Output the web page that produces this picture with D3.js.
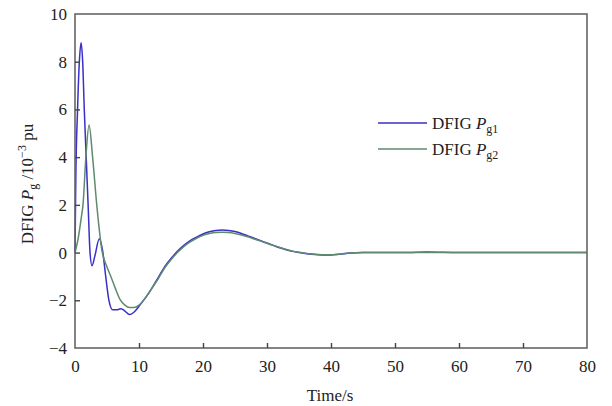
<!DOCTYPE html>
<html>
<head>
<meta charset="utf-8">
<script src="https://cdn.jsdelivr.net/npm/d3@7"></script>
<style>
  body { margin: 0; background: #fff; }
  svg text { font-family: "Liberation Serif", "DejaVu Serif", serif; fill: #222; }
</style>
</head>
<body>
<div id="chart"></div>
<script>
// time (s) and DFIG Pg (10^-3 pu)
var t1 = [0, 0.12, 0.4, 0.68, 0.95, 1.2, 1.45, 1.75, 2.05, 2.35, 2.65, 3.1, 3.8, 4.3, 4.8, 5.3, 5.9, 6.5, 7.2, 7.8, 8.5, 9.2, 10, 11, 12, 13, 14, 15, 16, 17, 18, 19, 20, 21, 22, 23, 24, 25, 26, 27, 28, 29, 30, 31, 32, 33, 34, 35, 36, 37, 38, 39, 40, 41, 42, 43, 45, 48, 52, 55, 60, 70, 80];
var pg1 = [0, 3, 6, 8, 8.8, 8.0, 6, 4, 2, 0, -0.55, -0.15, 0.58, 0.1, -1.0, -2.0, -2.4, -2.4, -2.35, -2.45, -2.6, -2.5, -2.25, -1.9, -1.5, -1.05, -0.6, -0.25, 0.05, 0.3, 0.5, 0.65, 0.78, 0.87, 0.93, 0.95, 0.93, 0.88, 0.8, 0.7, 0.6, 0.5, 0.4, 0.3, 0.2, 0.12, 0.05, 0, -0.04, -0.07, -0.09, -0.1, -0.1, -0.08, -0.05, -0.02, 0, 0, 0, 0.02, 0, 0, 0];

var t2 = [0, 0.5, 1.0, 1.25, 1.7, 2.2, 2.75, 3.4, 4.2, 5, 5.6, 6.3, 7, 7.8, 8.5, 9.2, 10, 11, 12, 13, 14, 15, 16, 17, 18, 19, 20, 21, 22, 23, 24, 25, 26, 27, 28, 29, 30, 31, 32, 33, 34, 35, 36, 37, 38, 39, 40, 41, 42, 43, 45, 48, 52, 55, 60, 70, 80];
var pg2 = [0, 0.6, 1.5, 2, 4, 5.35, 4, 2, 0.1, -0.6, -1.0, -1.5, -1.95, -2.2, -2.3, -2.3, -2.2, -1.9, -1.5, -1.1, -0.65, -0.3, 0, 0.25, 0.45, 0.6, 0.72, 0.8, 0.84, 0.85, 0.84, 0.8, 0.74, 0.66, 0.57, 0.48, 0.39, 0.3, 0.21, 0.13, 0.06, 0.01, -0.03, -0.06, -0.08, -0.09, -0.09, -0.07, -0.04, -0.02, 0, 0, 0, 0, 0, 0, 0];

var xticks = [0, 10, 20, 30, 40, 50, 60, 70, 80];
var yticks = [-4, -2, 0, 2, 4, 6, 8, 10];

var w = 612, h = 406;
var x0 = 75, x1 = 587, y0 = 14, y1 = 348;

var svg = d3.select("#chart").append("svg")
	.attr("width", w)
	.attr("height", h);

var xscale = d3.scaleLinear().domain([0, 80]).range([x0, x1]);
var yscale = d3.scaleLinear().domain([-4, 10]).range([y1, y0]);

// series lines
var line = d3.line()
	.x(function(d){ return xscale(d[0]); })
	.y(function(d){ return yscale(d[1]); })
	.curve(d3.curveMonotoneX);

svg.append("path")
	.datum(d3.zip(t1, pg1))
	.attr("fill", "none")
	.attr("stroke", "#3a2fc6")
	.attr("stroke-width", 1.5)
	.attr("d", line);

svg.append("path")
	.datum(d3.zip(t2, pg2))
	.attr("fill", "none")
	.attr("stroke", "#5f8a6e")
	.attr("stroke-width", 1.5)
	.attr("d", line);

// frame
svg.append("rect")
	.attr("x", x0)
	.attr("y", y0)
	.attr("width", x1 - x0)
	.attr("height", y1 - y0)
	.attr("fill", "none")
	.attr("stroke", "#666")
	.attr("stroke-width", 1.6);

// axes with inward ticks
var xaxis = d3.axisBottom(xscale).tickValues(xticks).tickSize(-5).tickPadding(12);
var yaxis = d3.axisLeft(yscale).tickValues(yticks).tickSize(-5).tickPadding(8);

var gx = svg.append("g").attr("transform", "translate(0," + y1 + ")").call(xaxis);
var gy = svg.append("g").attr("transform", "translate(" + x0 + ",0)").call(yaxis);

[gx, gy].forEach(function(g){
	g.select(".domain").remove();
	g.selectAll(".tick line").attr("stroke", "#444").attr("stroke-width", 1.4);
	g.selectAll(".tick text")
		.style("font-family", "'Liberation Serif', serif")
		.style("font-size", "17px")
		.attr("fill", "#222");
});
gx.selectAll(".tick line").filter(function(d){ return d == 0 || d == 80; }).remove();
gy.selectAll(".tick line").filter(function(d){ return d == -4 || d == 10; }).remove();
gy.selectAll(".tick text").text(function(d){ return d < 0 ? "\u2212" + Math.abs(d) : d; });

// axis labels
svg.append("text")
	.attr("x", 330)
	.attr("y", 401)
	.attr("text-anchor", "middle")
	.style("font-size", "17px")
	.text("Time/s");

var ylab = svg.append("text")
	.attr("transform", "translate(33,184) rotate(-90)")
	.attr("text-anchor", "middle")
	.style("font-size", "17px");
ylab.append("tspan").text("DFIG ");
ylab.append("tspan").style("font-style", "italic").text("P");
ylab.append("tspan").attr("dy", 4).style("font-size", "12px").text("g");
ylab.append("tspan").attr("dy", -4).text(" /10");
ylab.append("tspan").attr("dy", -7).style("font-size", "12px").text("\u22123");
ylab.append("tspan").attr("dy", 7).text(" pu");

// legend
var legend = [
	{ name: "g1", color: "#3a2fc6", y: 123 },
	{ name: "g2", color: "#5f8a6e", y: 149 }
];
var lg = svg.selectAll("g.legend")
	.data(legend)
	.enter().append("g")
	.attr("class", "legend");
lg.append("line")
	.attr("x1", 378).attr("x2", 427)
	.attr("y1", function(d){ return d.y; })
	.attr("y2", function(d){ return d.y; })
	.attr("stroke", function(d){ return d.color; })
	.attr("stroke-width", 1.5);
var lt = lg.append("text")
	.attr("x", 432)
	.attr("y", function(d){ return d.y + 6; })
	.style("font-size", "17px");
lt.append("tspan").text("DFIG ");
lt.append("tspan").style("font-style", "italic").text("P");
lt.append("tspan").attr("dy", 4).style("font-size", "12px").text(function(d){ return d.name; });
</script>
</body>
</html>
